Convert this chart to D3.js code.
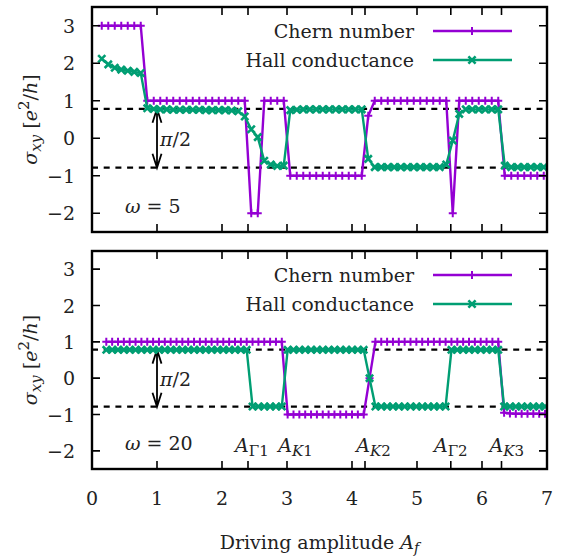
<!DOCTYPE html>
<html>
<head>
<meta charset="utf-8">
<script src="https://cdn.jsdelivr.net/npm/d3@7"></script>
<style>
  body { margin: 0; background: #fff; }
  text { font-family: "DejaVu Serif", serif; font-size: 19px; fill: #222; }
</style>
</head>
<body>
<svg id="chart" width="566" height="556"></svg>
<script>
// ---- data ----
// omega = 5 panel
var xTop = [0.15, 0.25, 0.35, 0.45, 0.55, 0.65, 0.75, 0.85, 0.95, 1.05,
            1.15, 1.25, 1.35, 1.45, 1.55, 1.65, 1.75, 1.85, 1.95, 2.05,
            2.15, 2.25, 2.35, 2.45, 2.55, 2.65, 2.75, 2.85, 2.95, 3.05,
            3.15, 3.25, 3.35, 3.45, 3.55, 3.65, 3.75, 3.85, 3.95, 4.05,
            4.15, 4.25, 4.35, 4.45, 4.55, 4.65, 4.75, 4.85, 4.95, 5.05,
            5.15, 5.25, 5.35, 5.45, 5.55, 5.65, 5.75, 5.85, 5.95, 6.05,
            6.15, 6.25, 6.35, 6.45, 6.55, 6.65, 6.75, 6.85, 6.95];
var chernTop = [3, 3, 3, 3, 3, 3, 3,
                1, 1, 1, 1, 1, 1, 1, 1, 1, 1, 1, 1, 1, 1, 1, 1,
                -2, -2,
                1, 1, 1, 1,
                -1, -1, -1, -1, -1, -1, -1, -1, -1, -1, -1, -1,
                0.6,
                1, 1, 1, 1, 1, 1, 1, 1, 1, 1, 1, 1,
                -2,
                1, 1, 1, 1, 1, 1, 1,
                -1, -1, -1, -1, -1, -1, -1];
var hallTop = [2.12, 1.97, 1.88, 1.83, 1.80, 1.77, 1.74,
               0.80, 0.78, 0.77, 0.77, 0.76, 0.76, 0.76, 0.76, 0.76, 0.75, 0.75, 0.75, 0.75, 0.74, 0.72,
               0.58, 0.24, 0.03, -0.60, -0.70, -0.74, -0.73,
               0.75, 0.76, 0.77, 0.77, 0.77, 0.77, 0.77, 0.77, 0.77, 0.77, 0.77, 0.77,
               -0.55,
               -0.77, -0.77, -0.77, -0.77, -0.77, -0.77, -0.77, -0.77, -0.77, -0.77, -0.77,
               -0.70, -0.06, 0.65,
               0.77, 0.77, 0.77, 0.77, 0.77, 0.77,
               -0.73, -0.77, -0.77, -0.77, -0.77, -0.77, -0.77];

// omega = 20 panel
var xBot = [0.22, 0.31, 0.40, 0.49, 0.58, 0.67, 0.76, 0.85, 0.94, 1.03,
            1.12, 1.21, 1.30, 1.39, 1.48, 1.57, 1.66, 1.75, 1.84, 1.93,
            2.02, 2.11, 2.20, 2.29, 2.38, 2.47, 2.56, 2.65, 2.74, 2.83,
            2.92, 3.01, 3.10, 3.19, 3.28, 3.37, 3.46, 3.55, 3.64, 3.73,
            3.82, 3.91, 4.00, 4.09, 4.18, 4.27, 4.36, 4.45, 4.54, 4.63,
            4.72, 4.81, 4.90, 4.99, 5.08, 5.17, 5.26, 5.35, 5.44, 5.53,
            5.62, 5.71, 5.80, 5.89, 5.98, 6.07, 6.16, 6.25, 6.34, 6.43,
            6.52, 6.61, 6.70, 6.79, 6.88, 6.97];
var chernBot = [1, 1, 1, 1, 1, 1, 1, 1, 1, 1, 1, 1, 1, 1, 1, 1, 1, 1, 1, 1,
                1, 1, 1, 1, 1, 1, 1, 1, 1, 1, 1,
                -1, -1, -1, -1, -1, -1, -1, -1, -1, -1, -1, -1, -1, -1,
                0,
                1, 1, 1, 1, 1, 1, 1, 1, 1, 1, 1, 1, 1, 1, 1, 1, 1, 1, 1, 1, 1, 1,
                -0.95, -0.97, -0.98, -0.98, -0.98, -0.98, -0.98, -0.98];
var hallBot = [0.78, 0.78, 0.78, 0.78, 0.78, 0.78, 0.78, 0.78, 0.78, 0.78,
               0.78, 0.78, 0.78, 0.78, 0.78, 0.78, 0.78, 0.78, 0.78, 0.78,
               0.78, 0.78, 0.78, 0.78, 0.78,
               -0.78, -0.78, -0.78, -0.78, -0.78, -0.78,
               0.78, 0.78, 0.78, 0.78, 0.78, 0.78, 0.78, 0.78, 0.78, 0.78, 0.78, 0.78, 0.78, 0.78,
               0,
               -0.78, -0.78, -0.78, -0.78, -0.78, -0.78, -0.78, -0.78, -0.78, -0.78, -0.78, -0.78, -0.78,
               0.78, 0.78, 0.78, 0.78, 0.78, 0.78, 0.78, 0.78, 0.78,
               -0.78, -0.78, -0.78, -0.78, -0.78, -0.78, -0.78, -0.78];

var xTicks = [0, 1, 2, 3, 4, 5, 6, 7];
var xTicksExtra = [2.4, 4.2, 5.52, 6.3];
var yTicks = [-2, -1, 0, 1, 2, 3];
var dashLevels = [0.785, -0.785];
var critNames = [["\u0393", "1"], ["K", "1"], ["K", "2"], ["\u0393", "2"], ["K", "3"]];
var critLabelAt = [2.46, 3.13, 4.33, 5.52, 6.38];
var seriesNames = ["Chern number", "Hall conductance"];
var omegas = ["5", "20"];

var purple = "#9400d3", green = "#009e73";

var svg = d3.select("#chart");
var x = d3.scaleLinear().domain([0, 7]).range([92, 547]);

var panels = [
  {xs: xTop, chern: chernTop, hall: hallTop, top: 7, bottom: 232, omega: omegas[0]},
  {xs: xBot, chern: chernBot, hall: hallBot, top: 251, bottom: 469, omega: omegas[1]}
];

var plus = "M-4,0H4M0,-4V4",
    cross = "M-3.6,-3.6L3.6,3.6M-3.6,3.6L3.6,-3.6";

panels.forEach(function(p, pi) {
  var y = d3.scaleLinear().domain([-2.5, 3.5]).range([p.bottom, p.top]);
  var g = svg.append("g");

  var clipId = "clip" + pi;
  svg.append("clipPath").attr("id", clipId)
    .append("rect").attr("x", x(0)).attr("y", p.top)
    .attr("width", x(7) - x(0)).attr("height", p.bottom - p.top);

  // dashed reference levels (+-pi/4)
  g.selectAll("line.dash").data(dashLevels).enter().append("line")
    .attr("x1", x(0)).attr("x2", x(7))
    .attr("y1", function(d) { return y(d); }).attr("y2", function(d) { return y(d); })
    .attr("stroke", "#000").attr("stroke-width", 2.2).attr("stroke-dasharray", "6,5.7");

  // pi/2 arrow
  var ax = x(1), ay1 = y(dashLevels[0]), ay2 = y(dashLevels[1]);
  g.append("path")
    .attr("d", "M" + ax + "," + ay1 + "V" + ay2 +
               "M" + (ax - 4.5) + "," + (ay1 + 14) + "L" + ax + "," + ay1 + "L" + (ax + 4.5) + "," + (ay1 + 14) +
               "M" + (ax - 4.5) + "," + (ay2 - 14) + "L" + ax + "," + ay2 + "L" + (ax + 4.5) + "," + (ay2 - 14))
    .attr("fill", "none").attr("stroke", "#000").attr("stroke-width", 1.8);
  var pt = g.append("text").attr("x", ax + 3).attr("y", y(0) + 8).attr("font-size", 21);
  pt.append("tspan").attr("font-style", "italic").text("\u03c0");
  pt.append("tspan").text("/2");

  // data
  var data = g.append("g").attr("clip-path", "url(#" + clipId + ")");
  var line = d3.line().x(function(d) { return x(d[0]); }).y(function(d) { return y(d[1]); });
  var sets = [
    {pts: d3.zip(p.xs, p.chern), color: purple, sym: plus, sw: 2},
    {pts: d3.zip(p.xs, p.hall), color: green, sym: cross, sw: 2.6}
  ];
  sets.forEach(function(s) {
    data.append("path").datum(s.pts).attr("d", line)
      .attr("fill", "none").attr("stroke", s.color).attr("stroke-width", 2.4);
    data.selectAll(null).data(s.pts).enter().append("path")
      .attr("transform", function(d) { return "translate(" + x(d[0]) + "," + y(d[1]) + ")"; })
      .attr("d", s.sym).attr("stroke", s.color).attr("stroke-width", s.sw).attr("fill", "none");
  });

  // frame ticks (mirrored, inward)
  var allX = xTicks.concat(xTicksExtra);
  var tk = g.append("g").attr("stroke", "#000").attr("stroke-width", 1.6);
  tk.selectAll(null).data(allX).enter().append("path")
    .attr("d", function(d) {
      return "M" + x(d) + "," + p.bottom + "v-8M" + x(d) + "," + p.top + "v8";
    });
  tk.selectAll(null).data(yTicks).enter().append("path")
    .attr("d", function(d) {
      return "M" + x(0) + "," + y(d) + "h8M" + x(7) + "," + y(d) + "h-8";
    });
  g.append("rect").attr("x", x(0)).attr("y", p.top)
    .attr("width", x(7) - x(0)).attr("height", p.bottom - p.top)
    .attr("fill", "none").attr("stroke", "#000").attr("stroke-width", 2.4);

  // y tick labels
  g.selectAll(null).data(yTicks).enter().append("text")
    .attr("x", 75).attr("y", function(d) { return y(d) + 7; })
    .attr("text-anchor", "end")
    .text(function(d) { return d < 0 ? "\u2212" + (-d) : d; });

  // y axis label
  var yl = g.append("text")
    .attr("transform", "translate(37," + ((p.top + p.bottom) / 2) + ") rotate(-90)")
    .attr("text-anchor", "middle").attr("font-size", 20);
  yl.append("tspan").attr("font-style", "italic").text("\u03c3");
  yl.append("tspan").attr("font-style", "italic").attr("font-size", 15).attr("dy", 4).text("xy");
  yl.append("tspan").attr("dy", -4).text(" [");
  yl.append("tspan").attr("font-style", "italic").text("e");
  yl.append("tspan").attr("font-size", 15).attr("dy", -8).text("2");
  yl.append("tspan").attr("dy", 8).text("/");
  yl.append("tspan").attr("font-style", "italic").text("h");
  yl.append("tspan").text("]");

  // legend
  var ly = [p.top + 24, p.top + 53];
  seriesNames.forEach(function(name, i) {
    g.append("text").attr("x", 414).attr("y", ly[i] + 6.5).attr("text-anchor", "end").text(name);
    g.append("line").attr("x1", 433).attr("x2", 512).attr("y1", ly[i]).attr("y2", ly[i])
      .attr("stroke", sets[i].color).attr("stroke-width", 2.4);
    g.append("path").attr("transform", "translate(472," + ly[i] + ")")
      .attr("d", sets[i].sym).attr("stroke", sets[i].color).attr("stroke-width", sets[i].sw);
  });

  // omega label
  var ot = g.append("text").attr("x", 125).attr("y", p.bottom - 19).attr("font-size", 20);
  ot.append("tspan").attr("font-style", "italic").text("\u03c9");
  ot.append("tspan").text(" = " + p.omega);

  // critical amplitude labels (lower panel only)
  if (pi === 1) {
    critNames.forEach(function(c, i) {
      var t = g.append("text").attr("x", x(critLabelAt[i])).attr("y", p.bottom - 17)
        .attr("text-anchor", "middle").attr("font-size", 20);
      t.append("tspan").attr("font-style", "italic").text("A");
      t.append("tspan").attr("font-size", 15).attr("dy", 4)
        .attr("font-style", c[0] === "K" ? "italic" : "normal").text(c[0]);
      t.append("tspan").attr("font-size", 15).text(c[1]);
    });

    // x tick labels
    g.selectAll(null).data(xTicks).enter().append("text")
      .attr("x", function(d) { return x(d); }).attr("y", 505)
      .attr("text-anchor", "middle").text(function(d) { return d; });

    var xl = g.append("text").attr("x", (x(0) + x(7)) / 2).attr("y", 549).attr("text-anchor", "middle");
    xl.append("tspan").text("Driving amplitude ");
    xl.append("tspan").attr("font-style", "italic").text("A");
    xl.append("tspan").attr("font-style", "italic").attr("font-size", 14).attr("dy", 4).text("f");
  }
});
</script>
</body>
</html>
